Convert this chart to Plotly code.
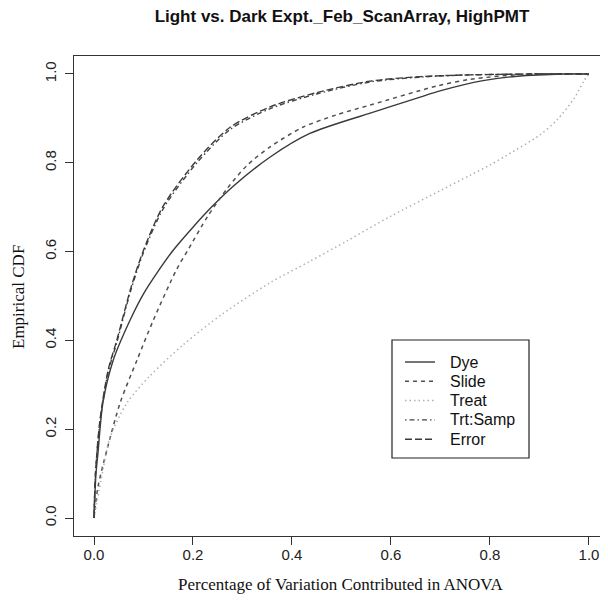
import plotly.graph_objects as go

# Empirical CDF curves (x = proportion of variation, y = ECDF)
dye_x = [0, 0.004, 0.008, 0.018, 0.039, 0.073, 0.1, 0.129, 0.16, 0.2, 0.24, 0.279, 0.356, 0.436, 0.558, 0.659, 0.699, 0.786, 0.855, 0.95, 1.0]
dye_y = [0, 0.10, 0.146, 0.26, 0.356, 0.446, 0.505, 0.555, 0.603, 0.655, 0.703, 0.745, 0.813, 0.866, 0.912, 0.948, 0.962, 0.985, 0.995, 1.0, 1.0]

slide_x = [0, 0.008, 0.026, 0.053, 0.087, 0.12, 0.167, 0.19, 0.23, 0.269, 0.31, 0.356, 0.422, 0.49, 0.558, 0.693, 0.76, 0.88, 1.0]
slide_y = [0, 0.07, 0.153, 0.26, 0.356, 0.446, 0.56, 0.604, 0.68, 0.742, 0.795, 0.836, 0.88, 0.908, 0.93, 0.973, 0.988, 1.0, 1.0]

treat_x = [0, 0.018, 0.032, 0.067, 0.113, 0.18, 0.26, 0.356, 0.436, 0.511, 0.6, 0.699, 0.76, 0.8, 0.834, 0.9, 0.935, 0.97, 0.99, 1.0]
treat_y = [0, 0.108, 0.18, 0.26, 0.32, 0.39, 0.46, 0.53, 0.578, 0.624, 0.68, 0.737, 0.772, 0.795, 0.817, 0.862, 0.896, 0.945, 0.985, 1.0]

trtsamp_x = [0, 0.003, 0.012, 0.029, 0.046, 0.075, 0.1, 0.14, 0.208, 0.275, 0.356, 0.45, 0.558, 0.66, 0.76, 0.9, 1.0]
trtsamp_y = [0, 0.10, 0.215, 0.33, 0.395, 0.515, 0.598, 0.697, 0.80, 0.875, 0.922, 0.955, 0.982, 0.993, 0.998, 1.0, 1.0]

error_x = [0, 0.003, 0.012, 0.029, 0.046, 0.075, 0.1, 0.14, 0.208, 0.275, 0.356, 0.45, 0.558, 0.66, 0.76, 0.9, 1.0]
error_y = [0, 0.10, 0.22, 0.335, 0.40, 0.52, 0.603, 0.703, 0.806, 0.88, 0.926, 0.958, 0.984, 0.994, 0.998, 1.0, 1.0]

series_names = ["Dye", "Slide", "Treat", "Trt:Samp", "Error"]
x_ticks = [0.0, 0.2, 0.4, 0.6, 0.8, 1.0]
x_tick_labels = ["0.0", "0.2", "0.4", "0.6", "0.8", "1.0"]
y_ticks = [0.0, 0.2, 0.4, 0.6, 0.8, 1.0]
y_tick_labels = ["0.0", "0.2", "0.4", "0.6", "0.8", "1.0"]

styles = [
    dict(color="#3a3a3a", dash="solid", width=1.4),
    dict(color="#505050", dash="4px,4px", width=1.5),
    dict(color="#b0b0b0", dash="1.5px,3px", width=1.5),
    dict(color="#444444", dash="1.5px,3px,5px,3px", width=1.4),
    dict(color="#3a3a3a", dash="7px,3px", width=1.4),
]
data = [(dye_x, dye_y), (slide_x, slide_y), (treat_x, treat_y), (trtsamp_x, trtsamp_y), (error_x, error_y)]

# figure geometry (page has an 8px body margin)
W, H = 600, 597
ML, MR, MT, MB = 66, 1, 48, 69
PW, PH = W - ML - MR, H - MT - MB
OFF = 8


def px_x(ax):  # absolute page x -> paper x
    return (ax - OFF - ML) / PW


def px_y(ay):  # absolute page y -> paper y
    return (H - MB - (ay - OFF)) / PH


fig = go.Figure()
for name, (xs, ys), st in zip(series_names, data, styles):
    fig.add_trace(go.Scatter(x=xs, y=ys, mode="lines", name=name, line=st,
                             line_shape="spline", line_smoothing=0.8, showlegend=False))

sans = "Liberation Sans, Arial, sans-serif"
serif = "Liberation Serif, Times New Roman, serif"

# manual legend (R style box)
shapes = [dict(type="rect", xref="paper", yref="paper",
               x0=px_x(392), x1=px_x(529), y0=px_y(458), y1=px_y(340),
               line=dict(color="#222", width=1.2), fillcolor="white", layer="above")]
annotations = []
for i, (name, st) in enumerate(zip(series_names, styles)):
    yy = px_y(362 + 19.3 * i)
    shapes.append(dict(type="line", xref="paper", yref="paper",
                       x0=px_x(405), x1=px_x(435), y0=yy, y1=yy,
                       line=dict(color=st["color"], dash=st["dash"], width=st["width"]),
                       layer="above"))
    annotations.append(dict(text=name, xref="paper", yref="paper", x=px_x(448), y=yy,
                            xanchor="left", yanchor="middle", showarrow=False,
                            font=dict(family=sans, size=16, color="#111")))

annotations.append(dict(text="Percentage of Variation Contributed in ANOVA",
                        xref="paper", yref="paper", x=px_x(340), y=px_y(584),
                        xanchor="center", yanchor="middle", showarrow=False,
                        font=dict(family=serif, size=17, color="#111")))
annotations.append(dict(text="Empirical CDF", textangle=-90,
                        xref="paper", yref="paper", x=px_x(18), y=px_y(297),
                        xanchor="center", yanchor="middle", showarrow=False,
                        font=dict(family=serif, size=17, color="#111")))

fig.update_layout(
    width=W, height=H,
    margin=dict(l=ML, r=MR, t=MT, b=MB),
    paper_bgcolor="white", plot_bgcolor="white",
    title=dict(text="<b>Light vs. Dark Expt._Feb_ScanArray, HighPMT</b>",
               x=(342 - OFF) / W, xanchor="center", xref="container",
               y=1 - (16 - OFF) / H, yanchor="middle", yref="container",
               font=dict(family=sans, size=17, color="#111")),
    shapes=shapes, annotations=annotations,
    showlegend=False,
)
fig.update_xaxes(range=[-0.0404, 1.0364], tickvals=x_ticks, ticktext=x_tick_labels,
                 ticks="outside", ticklen=8, tickcolor="#333", showgrid=False, zeroline=False,
                 showline=True, linecolor="#333", linewidth=1.2, mirror=True,
                 ticklabelstandoff=-3,
                 tickfont=dict(family=sans, size=15, color="#222"))
fig.update_yaxes(range=[-0.0405, 1.0405], tickvals=y_ticks, ticktext=y_tick_labels,
                 ticks="outside", ticklen=8, tickcolor="#333", showgrid=False, zeroline=False,
                 showline=True, linecolor="#333", linewidth=1.2, mirror=True, tickangle=-90,
                 ticklabelstandoff=3,
                 tickfont=dict(family=sans, size=15, color="#222"))

fig.write_html("out.html")
